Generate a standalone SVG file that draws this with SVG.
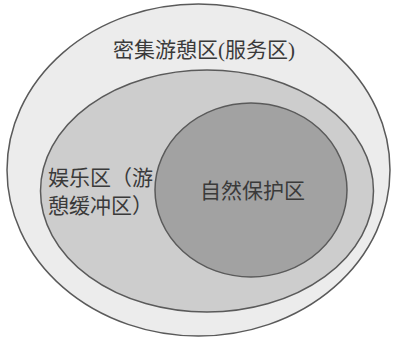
<svg xmlns="http://www.w3.org/2000/svg" width="393" height="338" viewBox="0 0 393 338">
<style>
.zone{stroke:#5a5a5a;stroke-width:1.5}
.lbl{font-family:"Liberation Serif","Noto Sans CJK SC",serif;font-size:21px;fill:#3a3a3a}
</style>
<rect width="393" height="338" fill="#ffffff"/>
<g id="outer">
<ellipse class="zone" cx="198.5" cy="170" rx="191.5" ry="166" fill="#ececec"/>
<text class="lbl" x="113" y="57">密集游憩区(服务区)</text>
</g>
<g id="middle">
<ellipse class="zone" cx="207" cy="191" rx="166.5" ry="121" fill="#cdcdcd"/>
<text class="lbl" x="48" y="185">娱乐区（游</text>
<text class="lbl" x="48" y="213">憩缓冲区）</text>
</g>
<g id="inner">
<ellipse class="zone" cx="251" cy="190" rx="96" ry="87" fill="#a2a2a2"/>
<text class="lbl" x="200" y="198" fill="#4a4a4a">自然保护区</text>
</g>
<g id="connectors"/>
</svg>
